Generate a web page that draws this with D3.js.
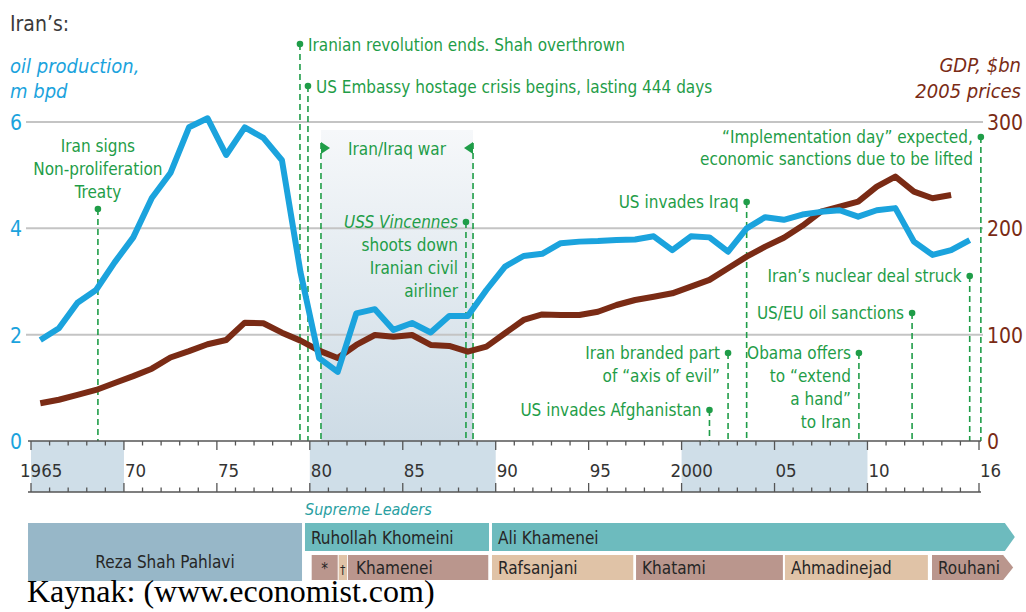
<!DOCTYPE html>
<html>
<head>
<meta charset="utf-8">
<script src="https://cdn.jsdelivr.net/npm/d3@7"></script>
<style>
  body { margin: 0; background: #fff; }
  svg { display: block; }
</style>
</head>
<body>
<div id="chart"></div>
<script>
// data
const years = [1965,1966,1967,1968,1969,1970,1971,1972,1973,1974,1975,1976,1977,1978,1979,1980,1981,1982,1983,1984,
  1985,1986,1987,1988,1989,1990,1991,1992,1993,1994,1995,1996,1997,1998,1999,2000,2001,2002,2003,2004,
  2005,2006,2007,2008,2009,2010,2011,2012,2013,2014,2015];
const oil = [1.90,2.12,2.60,2.84,3.36,3.83,4.57,5.04,5.90,6.07, 5.38,5.90,5.70,5.28,3.17,1.56,1.30,2.40,2.48,2.09,
  2.22,2.04,2.35,2.35,2.84,3.28,3.48,3.52,3.72,3.75, 3.76,3.78,3.79,3.85,3.59,3.85,3.83,3.56,4.00,4.21,
  4.16,4.26,4.31,4.34,4.22,4.34,4.38,3.75,3.50,3.59,3.78];
const gdp = [35.5,38.8,43.3,48,54.5,61,68,78.5,84.5,91, 95,111.3,110.7,101.9,94.4,85,78,90.3,99.7,98.1,
  99.7,90.3,89.4,84,88.7,101.3,113.8,119,118.5,118.5, 121.6,127.9,132.6,135.7,138.9,145.2,151.5,162.5,173.4,182.8,
  191.2,202.4,215.7,220.4,225.1,239.2,248.6,234.5,228.3,231.4];

const oilTicks = [0,2,4,6];
const gdpTicks = [0,100,200,300];
const tickYears = [1965,1970,1975,1980,1985,1990,1995,2000,2005,2010,2016];
const tickLabels = ["1965","70","75","80","85","90","95","2000","05","10","16"];
const decadeBands = [[1965,1970],[1980,1990],[2000,2010]];

const warYears = [1980.6, 1988.78];
const eventYears = [1968.6, 1979.47, 1979.9, 1988.4, 2003.5, 2002.5, 2001.5, 2009.54, 2012.4, 2015.5, 2016.1];
const eventLabels = [
  ["Iran signs","Non-proliferation","Treaty"],
  ["Iranian revolution ends. Shah overthrown"],
  ["US Embassy hostage crisis begins, lasting 444 days"],
  ["USS Vincennes","shoots down","Iranian civil","airliner"],
  ["US invades Iraq"],
  ["Iran branded part","of \u201caxis of evil\u201d"],
  ["US invades Afghanistan"],
  ["Obama offers","to \u201cextend","a hand\u201d","to Iran"],
  ["US/EU oil sanctions"],
  ["Iran\u2019s nuclear deal struck"],
  ["\u201cImplementation day\u201d expected,","economic sanctions due to be lifted"]
];

const leaders = ["Reza Shah Pahlavi","Ruhollah Khomeini","Ali Khamenei"];
const leaderSpans = [[1964.84,1979.58],[1979.74,1989.64],[1989.8,2017.39]];
const presidents = ["*","\u2020","Khamenei","Rafsanjani","Khatami","Ahmadinejad","Rouhani"];
const presidentSpans = [[1980.1,1981.5],[1981.55,1982.0],[1982.05,1989.6],[1989.8,1997.4],[1997.55,2005.45],[2005.56,2013.25],[2013.47,2017.3]];

// layout of the annotations (dot height, text side)
const eventLayout = [
  {dotY:209, side:"above"},
  {dotY:44, side:"right"},
  {dotY:86, side:"right"},
  {dotY:222, side:"left"},
  {dotY:202, side:"left"},
  {dotY:353, side:"left"},
  {dotY:410, side:"left"},
  {dotY:353, side:"left"},
  {dotY:313, side:"left"},
  {dotY:276, side:"left"},
  {dotY:137, side:"left", lh:22}
];

const W = 1026, H = 612;
const FONT = "'DejaVu Sans Condensed','Liberation Sans Narrow','Arial Narrow',sans-serif";
const BLUE = "#1ba3dd", BROWN = "#7a2b15", GREEN = "#1f9d48", GREY = "#3a3a3a";

const svg = d3.select("#chart").append("svg").attr("width", W).attr("height", H)
  .style("font-family", FONT);

const x = d3.scaleLinear().domain([1965, 2016]).range([31, 979]);
const yOil = d3.scaleLinear().domain([0, 6]).range([441, 122]);
const yGdp = d3.scaleLinear().domain([0, 300]).range([441, 122]);
const axisTop = 441, axisBottom = 492;

// war shading
const grad = svg.append("defs").append("linearGradient").attr("id", "war")
  .attr("x1", 0).attr("y1", 0).attr("x2", 0).attr("y2", 1);
grad.append("stop").attr("offset", "0%").attr("stop-color", "#f6f8fa");
grad.append("stop").attr("offset", "100%").attr("stop-color", "#cddbe5");
svg.append("rect")
  .attr("x", x(warYears[0])).attr("y", 130)
  .attr("width", x(warYears[1]) - x(warYears[0])).attr("height", axisTop - 130)
  .attr("fill", "url(#war)");

// gridlines
svg.append("g").selectAll("line").data(oilTicks.slice(1)).join("line")
  .attr("x1", x(1965) - 5).attr("x2", x(2016) + 4)
  .attr("y1", d => yOil(d)).attr("y2", d => yOil(d))
  .attr("stroke", "#c4c4c4").attr("stroke-width", 2);

// y tick labels
svg.append("g").selectAll("text").data(oilTicks).join("text")
  .attr("x", 22).attr("y", d => yOil(d) + 8).attr("text-anchor", "end")
  .attr("font-size", 21).attr("fill", BLUE).text(d => d);
svg.append("g").selectAll("text").data(gdpTicks).join("text")
  .attr("x", 987).attr("y", d => yGdp(d) + 8)
  .attr("font-size", 21).attr("fill", BROWN).text(d => d);

// titles
svg.append("text").attr("x", 10).attr("y", 31).attr("font-size", 21).attr("fill", GREY).text("Iran\u2019s:");
svg.append("text").attr("x", 10).attr("y", 73).attr("font-size", 20).attr("font-style", "italic")
  .attr("fill", BLUE).text("oil production,");
svg.append("text").attr("x", 10).attr("y", 98).attr("font-size", 20).attr("font-style", "italic")
  .attr("fill", BLUE).text("m bpd");
svg.append("text").attr("x", 1021).attr("y", 72).attr("font-size", 20).attr("font-style", "italic")
  .attr("text-anchor", "end").attr("fill", BROWN).text("GDP, $bn");
svg.append("text").attr("x", 1021).attr("y", 98).attr("font-size", 20).attr("font-style", "italic")
  .attr("text-anchor", "end").attr("fill", BROWN).text("2005 prices");

// event lines and labels
const ev = svg.append("g").attr("fill", GREEN);
eventYears.forEach((yr, i) => {
  const L = eventLayout[i], cx = x(yr), lh = L.lh || 23;
  ev.append("line").attr("x1", cx).attr("x2", cx).attr("y1", L.dotY).attr("y2", axisTop)
    .attr("stroke", GREEN).attr("stroke-width", 1.6).attr("stroke-dasharray", "6,4");
  ev.append("circle").attr("cx", cx).attr("cy", L.dotY).attr("r", 3.3);
  const t = ev.append("text").attr("font-size", 17);
  eventLabels[i].forEach((s, j) => {
    let tx, ty, anchor;
    if (L.side === "above") { tx = cx; ty = L.dotY - 57 + j * lh; anchor = "middle"; }
    else if (L.side === "right") { tx = cx + 8; ty = L.dotY + 7 + j * lh; anchor = "start"; }
    else { tx = cx - 8; ty = L.dotY + 6 + j * lh; anchor = "end"; }
    const ts = t.append("tspan").attr("x", tx).attr("y", ty).attr("text-anchor", anchor).text(s);
    if (s === "USS Vincennes") ts.attr("font-style", "italic");
  });
});

// Iran/Iraq war markers
warYears.forEach((yr, i) => {
  const cx = x(yr), dir = i === 0 ? 1 : -1;
  ev.append("line").attr("x1", cx).attr("x2", cx).attr("y1", 143).attr("y2", axisTop)
    .attr("stroke", GREEN).attr("stroke-width", 1.6).attr("stroke-dasharray", "6,4");
  ev.append("path").attr("d", `M${cx},142 L${cx + dir * 9},148 L${cx},154 Z`);
});
ev.append("text").attr("x", (x(warYears[0]) + x(warYears[1])) / 2).attr("y", 155)
  .attr("text-anchor", "middle").attr("font-size", 17).text("Iran/Iraq war");

// data lines
svg.append("path").datum(gdp)
  .attr("d", d3.line().x((d, i) => x(years[i] + 0.5)).y(d => yGdp(d)))
  .attr("fill", "none").attr("stroke", BROWN).attr("stroke-width", 6)
  .attr("stroke-linejoin", "round");
svg.append("path").datum(oil)
  .attr("d", d3.line().x((d, i) => x(years[i] + 0.5)).y(d => yOil(d)))
  .attr("fill", "none").attr("stroke", BLUE).attr("stroke-width", 6)
  .attr("stroke-linejoin", "round");

// x axis band
const ax = svg.append("g");
ax.selectAll("rect").data(decadeBands).join("rect")
  .attr("x", d => x(d[0])).attr("y", axisTop)
  .attr("width", d => x(d[1]) - x(d[0])).attr("height", axisBottom - axisTop)
  .attr("fill", "#cfdee8");
[axisTop, axisBottom].forEach(yy => {
  ax.append("line").attr("x1", x(1965) - 3).attr("x2", x(2016) + 2).attr("y1", yy).attr("y2", yy)
    .attr("stroke", "#555").attr("stroke-width", 1.5);
});
const allYears = years.concat([2016]);
allYears.forEach(yr => {
  const len = tickYears.includes(yr) ? 9 : 4.5;
  ax.append("line").attr("x1", x(yr)).attr("x2", x(yr)).attr("y1", axisTop).attr("y2", axisTop + len)
    .attr("stroke", "#555").attr("stroke-width", 1.3);
  ax.append("line").attr("x1", x(yr)).attr("x2", x(yr)).attr("y1", axisBottom).attr("y2", axisBottom - len)
    .attr("stroke", "#555").attr("stroke-width", 1.3);
});
ax.selectAll("text").data(tickYears).join("text")
  .attr("x", (d, i) => x(d) + (tickLabels[i].length === 4 ? -11 : 1))
  .attr("y", 477).attr("font-size", 18.5).attr("fill", "#333")
  .text((d, i) => tickLabels[i]);

// leaders band
svg.append("text").attr("x", 305).attr("y", 515).attr("font-size", 16).attr("font-style", "italic")
  .attr("fill", "#2a9fa2").text("Supreme Leaders");

function box(g, span, y0, y1, fill, arrow) {
  const a = x(span[0]), b = x(span[1]);
  const d = arrow
    ? `M${a},${y0} L${b},${y0} L${b + 10},${(y0 + y1) / 2} L${b},${y1} L${a},${y1} Z`
    : `M${a},${y0} L${b},${y0} L${b},${y1} L${a},${y1} Z`;
  g.append("path").attr("d", d).attr("fill", fill);
}
const lg = svg.append("g").attr("font-size", 17).attr("fill", "#262626");
const leaderFill = ["#97b7c8", "#6dbbbe", "#6dbbbe"];
leaders.forEach((n, i) => {
  if (i === 0) {
    box(lg, leaderSpans[i], 523, 581, leaderFill[i], false);
    lg.append("text").attr("x", (x(leaderSpans[i][0]) + x(leaderSpans[i][1])) / 2).attr("y", 568)
      .attr("text-anchor", "middle").text(n);
  } else {
    box(lg, leaderSpans[i], 523, 551, leaderFill[i], i === 2);
    lg.append("text").attr("x", x(leaderSpans[i][0]) + 6).attr("y", 544).text(n);
  }
});
presidents.forEach((n, i) => {
  const s = presidentSpans[i];
  box(lg, s, 555, 580, i % 2 === 0 ? "#ba968d" : "#e0c3a7", i === presidents.length - 1);
  if (n.length === 1) {
    lg.append("text").attr("x", (x(s[0]) + x(s[1])) / 2).attr("y", 574).attr("text-anchor", "middle")
      .attr("font-size", n === "*" ? 15 : 12).text(n);
  } else {
    lg.append("text").attr("x", x(s[0]) + (i === 2 ? 8 : 6)).attr("y", 574).text(n);
  }
});

// source line
svg.append("rect").attr("x", 0).attr("y", 581).attr("width", W).attr("height", H - 581).attr("fill", "#fff");
svg.append("text").attr("x", 27).attr("y", 602).attr("font-family", "'Liberation Serif','Times New Roman',serif")
  .attr("font-size", 32).attr("fill", "#000").text("Kaynak: (www.economist.com)");
</script>
</body>
</html>
